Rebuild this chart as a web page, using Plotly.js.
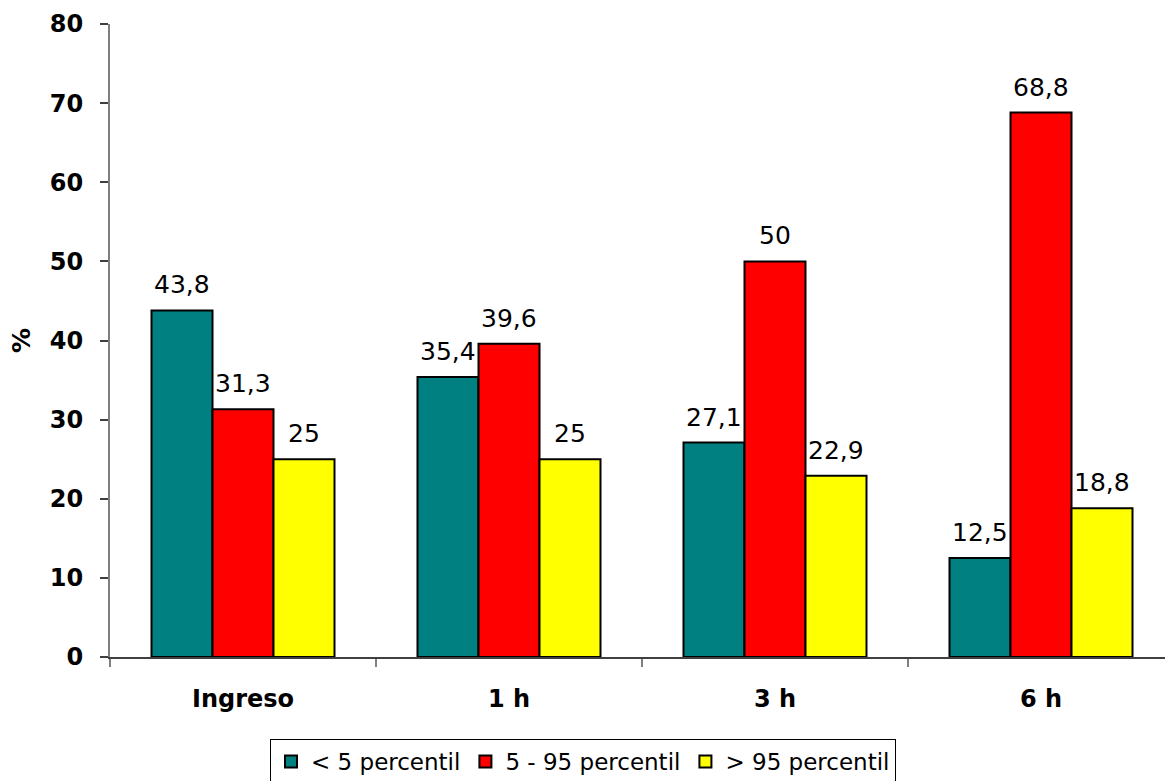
<!DOCTYPE html>
<html>
<head>
<meta charset="utf-8">
<script src="https://cdn.plot.ly/plotly-3.0.1.min.js"></script>
<style>
html,body{margin:0;padding:0;overflow:hidden;background:#fff;}
#chart{width:1175px;height:781px;}
</style>
</head>
<body>
<div id="chart"></div>
<script>
const categories = ["Ingreso", "1 h", "3 h", "6 h"];
const seriesNames = ["< 5 percentil", "5 - 95 percentil", "> 95 percentil"];
const lowValues = [43.8, 35.4, 27.1, 12.5];
const midValues = [31.3, 39.6, 50, 68.8];
const highValues = [25, 25, 22.9, 18.8];
const colors = ["#008080", "#FF0000", "#FFFF00"];
const yTicks = [0, 10, 20, 30, 40, 50, 60, 70, 80];

const W = 1175, H = 781;
const margin = {l: 110, r: 1, t: 24, b: 124};
const bargap = 0.312;
const FONT = "DejaVu Sans, Verdana, sans-serif";

const allSeries = [lowValues, midValues, highValues];
const traces = allSeries.map((vals, i) => ({
  type: "bar",
  name: seriesNames[i],
  x: categories,
  y: vals,
  marker: {color: colors[i], line: {color: "#000", width: 2}},
  hoverinfo: "x+y+name"
}));

const plotW = W - margin.l - margin.r;
const catW = plotW / categories.length;
const barW = catW * (1 - bargap) / allSeries.length;

const annotations = [];
allSeries.forEach((vals, i) => {
  vals.forEach((v, j) => {
    annotations.push({
      x: categories[j], y: v, xref: "x", yref: "y",
      text: String(v).replace(".", ","),
      showarrow: false,
      xanchor: "center", yanchor: "bottom",
      xshift: (i - 1) * barW,
      yshift: 9,
      font: {family: FONT, size: 25, color: "#000"}
    });
  });
});

const layout = {
  width: W, height: H,
  margin: margin,
  paper_bgcolor: "#fff",
  plot_bgcolor: "#fff",
  barmode: "group",
  bargap: bargap,
  bargroupgap: 0,
  showlegend: true,
  font: {family: FONT, color: "#000"},
  xaxis: {
    type: "category",
    showline: true, linecolor: "#404040", linewidth: 2,
    ticks: "outside", tickson: "boundaries", ticklen: 8, tickwidth: 2, tickcolor: "#808080",
    tickfont: {family: FONT, size: 24, color: "#000", weight: "bold"},
    ticklabelstandoff: 19,
    showgrid: false, zeroline: false,
    automargin: false
  },
  yaxis: {
    range: [0, 80],
    tickvals: yTicks,
    showline: true, linecolor: "#808080", linewidth: 2,
    ticks: "outside", ticklen: 8, tickwidth: 2, tickcolor: "#404040",
    tickfont: {family: FONT, size: 24, color: "#000", weight: "bold"},
    ticklabelstandoff: 12,
    showgrid: false, zeroline: false,
    title: {text: "%", font: {family: FONT, size: 25, color: "#000", weight: "bold"}, standoff: 12},
    automargin: false
  },
  legend: {
    orientation: "h",
    xref: "container", yref: "container",
    x: 583 / W, xanchor: "center",
    y: (H - 739) / H, yanchor: "top",
    bordercolor: "#000", borderwidth: 1,
    bgcolor: "#fff",
    font: {family: FONT, size: 23, color: "#000"},
    itemwidth: 30,
    tracegroupgap: 0
  },
  annotations: annotations
};

Plotly.newPlot("chart", traces, layout, {displayModeBar: false, staticPlot: true});
</script>
</body>
</html>
